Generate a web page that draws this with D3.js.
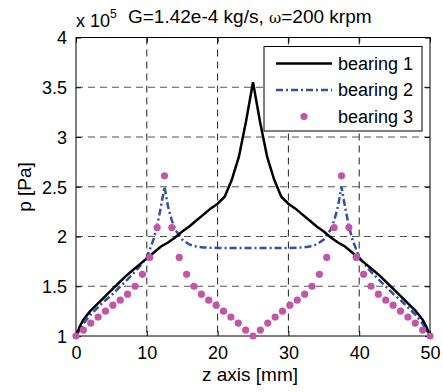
<!DOCTYPE html>
<html>
<head>
<meta charset="utf-8">
<script src="https://cdn.jsdelivr.net/npm/d3@7"></script>
<style>
  body { margin: 0; background: #fff; }
  text { font-family: "Liberation Sans", Arial, sans-serif; fill: #000; }
</style>
</head>
<body>
<svg id="chart" width="443" height="392"></svg>
<script>
// z positions [mm] and pressures [x 1e5 Pa], left half; right half is mirrored
var z1 = [0, 0.5, 1, 2, 3, 4, 5, 6, 7, 8, 9, 10, 11, 12, 13, 14, 15, 16, 17, 18, 19, 20, 21, 22, 23, 24, 25];
var p1 = [1.0, 1.09, 1.16, 1.25, 1.32, 1.39, 1.46, 1.53, 1.60, 1.66, 1.72, 1.78, 1.84, 1.90, 1.94, 1.99, 2.05, 2.10, 2.16, 2.22, 2.28, 2.33, 2.40, 2.57, 2.80, 3.15, 3.55];

var z2 = [0, 1, 2, 3, 4, 5, 6, 7, 8, 9, 10, 11, 11.5, 12, 12.5, 13, 13.5, 14, 15, 16, 17, 18, 20, 25];
var p2 = [1.0, 1.12, 1.21, 1.28, 1.35, 1.41, 1.48, 1.55, 1.62, 1.70, 1.79, 1.98, 2.12, 2.30, 2.50, 2.30, 2.17, 2.07, 1.97, 1.92, 1.90, 1.89, 1.885, 1.885];

// bearing 3 markers, 49 points from 0 to 50 mm
var p3half = [1.0, 1.06, 1.13, 1.19, 1.25, 1.31, 1.36, 1.42, 1.50, 1.62, 1.79, 2.09, 2.61,
              2.09, 1.79, 1.62, 1.50, 1.42, 1.36, 1.31, 1.25, 1.19, 1.13, 1.06, 1.0];

var xTicks = [0, 10, 20, 30, 40, 50];
var yTicks = [1, 1.5, 2, 2.5, 3, 3.5, 4];
var seriesNames = ["bearing 1", "bearing 2", "bearing 3"];

function mirror(z, p) {
  var pts = z.map(function(d, i) { return [d, p[i]]; });
  for (var i = z.length - 2; i >= 0; i--) pts.push([50 - z[i], p[i]]);
  return pts;
}
var line1 = mirror(z1, p1);
var line2 = mirror(z2, p2);
var dots = [];
for (var i = 0; i < 49; i++) {
  var k = i <= 24 ? i : 48 - i;
  dots.push([i * 50 / 48, p3half[k]]);
}

var svg = d3.select("#chart");
var pL = 76, pR = 430, pT = 37.5, pB = 336;

var x = d3.scaleLinear().domain([0, 50]).range([pL, pR]);
var y = d3.scaleLinear().domain([1, 4]).range([pB, pT]);

// grid
svg.append("g").selectAll("line")
  .data(xTicks.slice(1, -1)).enter().append("line")
  .attr("x1", function(d) { return x(d); }).attr("x2", function(d) { return x(d); })
  .attr("y1", pT).attr("y2", pB)
  .attr("stroke", "#222").attr("stroke-width", 1).attr("stroke-dasharray", "7,5");
svg.append("g").selectAll("line")
  .data(yTicks.slice(1, -1)).enter().append("line")
  .attr("y1", function(d) { return y(d); }).attr("y2", function(d) { return y(d); })
  .attr("x1", pL).attr("x2", pR)
  .attr("stroke", "#555").attr("stroke-width", 1).attr("stroke-dasharray", "7,5");

// axes with inward ticks
var xAxis = svg.append("g").attr("transform", "translate(0," + pB + ")")
  .call(d3.axisBottom(x).tickValues(xTicks).tickSizeInner(-5).tickSizeOuter(0).tickPadding(10));
var xTop = svg.append("g").attr("transform", "translate(0," + pT + ")")
  .call(d3.axisTop(x).tickValues(xTicks).tickSizeInner(-5).tickSizeOuter(0).tickFormat(""));
var yAxis = svg.append("g").attr("transform", "translate(" + pL + ",0)")
  .call(d3.axisLeft(y).tickValues(yTicks).tickSizeInner(-5).tickSizeOuter(0).tickPadding(9).tickFormat(d3.format("")));
var yRight = svg.append("g").attr("transform", "translate(" + pR + ",0)")
  .call(d3.axisRight(y).tickValues(yTicks).tickSizeInner(-5).tickSizeOuter(0).tickFormat(""));

[xAxis, xTop, yAxis, yRight].forEach(function(g) {
  g.select(".domain").remove();
  g.selectAll("line").attr("stroke", "#000");
  g.selectAll("text").attr("font-size", 18).attr("font-family", "Liberation Sans, Arial, sans-serif");
});
yAxis.selectAll("text").attr("dy", "0.36em");

svg.append("rect")
  .attr("x", pL).attr("y", pT).attr("width", pR - pL).attr("height", pB - pT)
  .attr("fill", "none").attr("stroke", "#000").attr("stroke-width", 1);

// data
var path = d3.line().x(function(d) { return x(d[0]); }).y(function(d) { return y(d[1]); });

svg.append("path").datum(line2).attr("d", path)
  .attr("fill", "none").attr("stroke", "#2f4faa").attr("stroke-width", 2.5)
  .attr("stroke-dasharray", "7,3,2,3");
svg.append("path").datum(line1).attr("d", path)
  .attr("fill", "none").attr("stroke", "#000").attr("stroke-width", 2.5);
svg.selectAll(".dot").data(dots).enter().append("circle")
  .attr("class", "dot")
  .attr("cx", function(d) { return x(d[0]); })
  .attr("cy", function(d) { return y(d[1]); })
  .attr("r", 3.6).attr("fill", "#c255a8");

// labels
svg.append("text").attr("x", 250).attr("y", 381)
  .attr("text-anchor", "middle").attr("font-size", 19).text("z axis [mm]");
svg.append("text").attr("transform", "translate(31,187) rotate(-90)")
  .attr("text-anchor", "middle").attr("font-size", 19).text("p [Pa]");

var exp = svg.append("text").attr("x", 76).attr("y", 27).attr("font-size", 18);
exp.append("tspan").text("x 10");
exp.append("tspan").attr("font-size", 12).attr("dy", -9).text("5");

var title = svg.append("text").attr("x", 128).attr("y", 23).attr("font-size", 19);
title.append("tspan").text("G=1.42e-4 kg/s, ");
title.append("tspan").attr("font-family", "DejaVu Serif, serif").attr("font-size", 15).text("ω");
title.append("tspan").text("=200 krpm");

// legend
var lg = svg.append("g");
lg.append("rect").attr("x", 264).attr("y", 46.5).attr("width", 158).attr("height", 84.5)
  .attr("fill", "#fff").attr("stroke", "#000").attr("stroke-width", 1);
var rows = [63.5, 90, 116.5];
lg.append("line").attr("x1", 276).attr("x2", 332).attr("y1", rows[0]).attr("y2", rows[0])
  .attr("stroke", "#000").attr("stroke-width", 2.5);
lg.append("line").attr("x1", 276).attr("x2", 332).attr("y1", rows[1]).attr("y2", rows[1])
  .attr("stroke", "#2f4faa").attr("stroke-width", 2.5).attr("stroke-dasharray", "7,3,2,3");
lg.append("circle").attr("cx", 304).attr("cy", rows[2]).attr("r", 3.6).attr("fill", "#c255a8");
lg.selectAll(".lt").data(seriesNames).enter().append("text")
  .attr("class", "lt")
  .attr("x", 338).attr("y", function(d, i) { return rows[i]; }).attr("dy", "0.36em")
  .attr("font-size", 18).text(function(d) { return d; });
</script>
</body>
</html>
